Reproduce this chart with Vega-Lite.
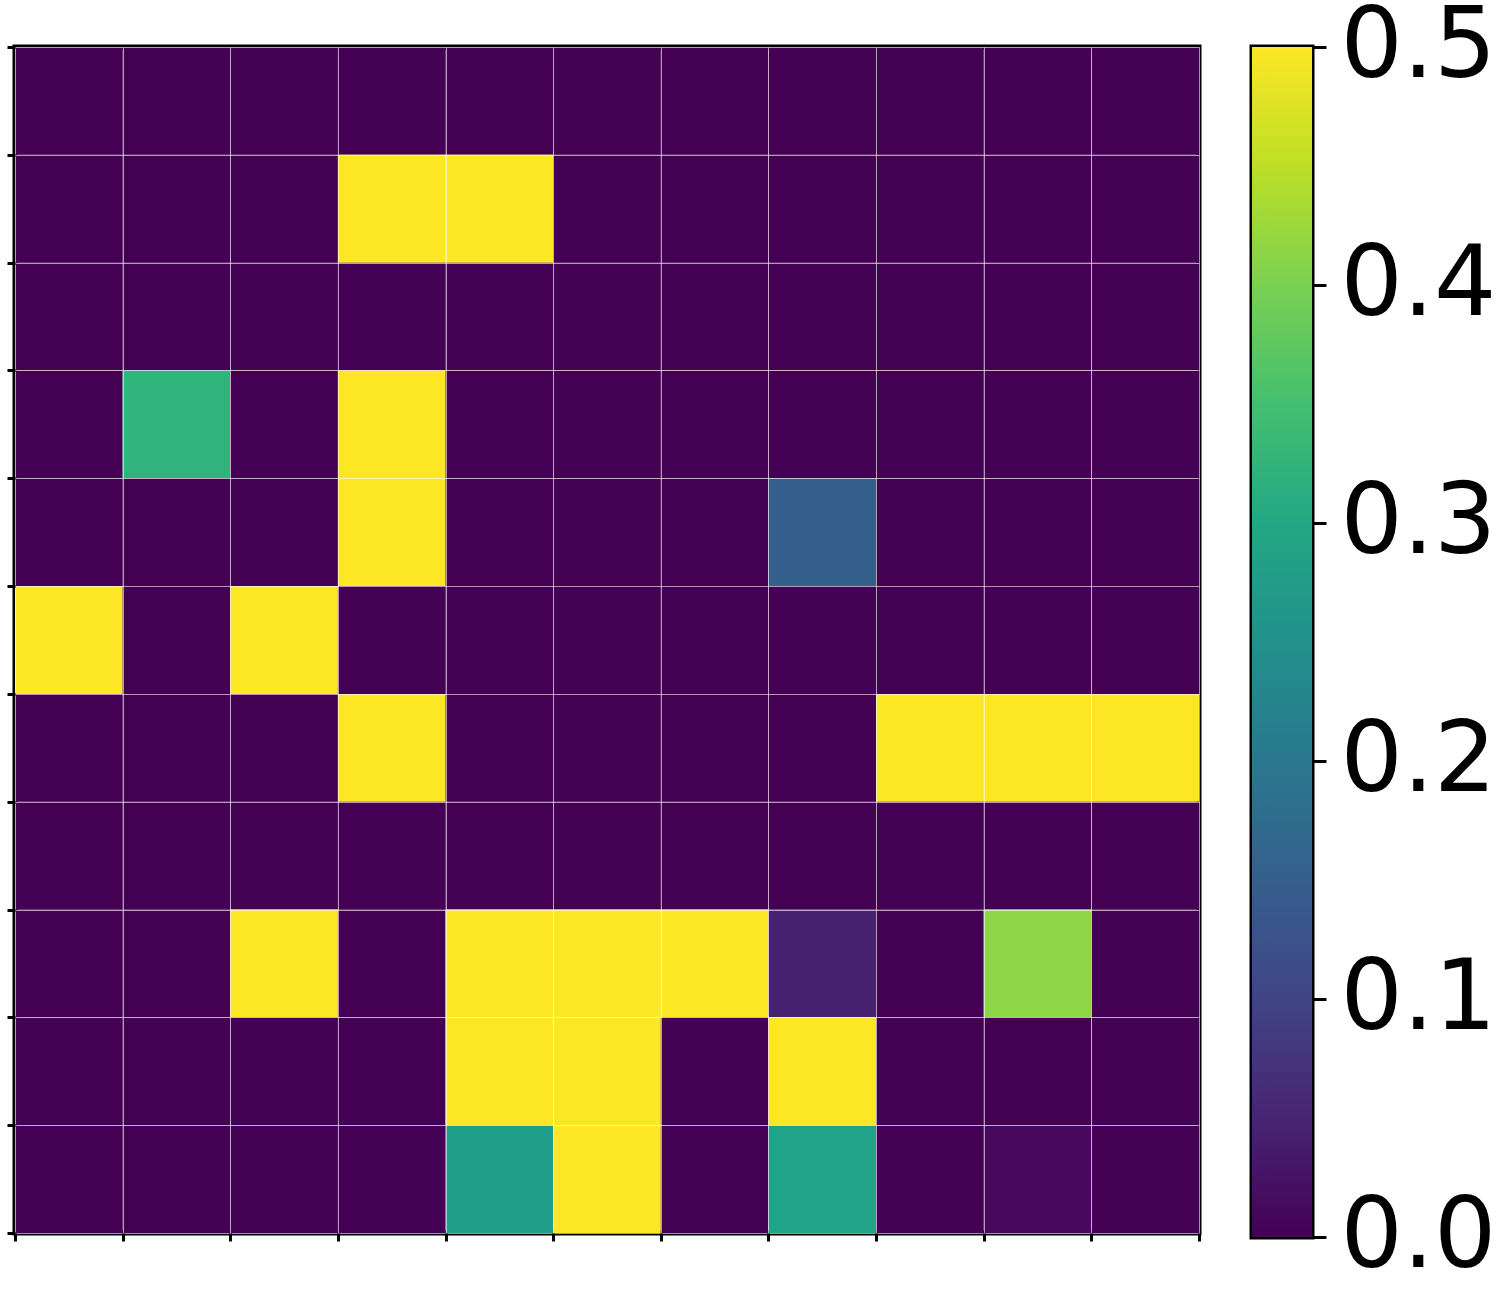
{
  "$schema": "https://vega.github.io/schema/vega-lite/v6.json",
  "background": "white",
  "padding": {"left": 3, "top": -5, "right": 0, "bottom": 0},
  "bounds": "flush",
  "spacing": 53,
  "config": {"view": {"stroke": null}, "font": "DejaVu Sans"},
  "datasets": {
    "cells": [
      {"r":0,"c":0,"v":0},{"r":0,"c":1,"v":0},{"r":0,"c":2,"v":0},{"r":0,"c":3,"v":0},{"r":0,"c":4,"v":0},{"r":0,"c":5,"v":0},{"r":0,"c":6,"v":0},{"r":0,"c":7,"v":0},{"r":0,"c":8,"v":0},{"r":0,"c":9,"v":0},{"r":0,"c":10,"v":0},
      {"r":1,"c":0,"v":0},{"r":1,"c":1,"v":0},{"r":1,"c":2,"v":0},{"r":1,"c":3,"v":0.5},{"r":1,"c":4,"v":0.5},{"r":1,"c":5,"v":0},{"r":1,"c":6,"v":0},{"r":1,"c":7,"v":0},{"r":1,"c":8,"v":0},{"r":1,"c":9,"v":0},{"r":1,"c":10,"v":0},
      {"r":2,"c":0,"v":0},{"r":2,"c":1,"v":0},{"r":2,"c":2,"v":0},{"r":2,"c":3,"v":0},{"r":2,"c":4,"v":0},{"r":2,"c":5,"v":0},{"r":2,"c":6,"v":0},{"r":2,"c":7,"v":0},{"r":2,"c":8,"v":0},{"r":2,"c":9,"v":0},{"r":2,"c":10,"v":0},
      {"r":3,"c":0,"v":0},{"r":3,"c":1,"v":0.325},{"r":3,"c":2,"v":0},{"r":3,"c":3,"v":0.5},{"r":3,"c":4,"v":0},{"r":3,"c":5,"v":0},{"r":3,"c":6,"v":0},{"r":3,"c":7,"v":0},{"r":3,"c":8,"v":0},{"r":3,"c":9,"v":0},{"r":3,"c":10,"v":0},
      {"r":4,"c":0,"v":0},{"r":4,"c":1,"v":0},{"r":4,"c":2,"v":0},{"r":4,"c":3,"v":0.5},{"r":4,"c":4,"v":0},{"r":4,"c":5,"v":0},{"r":4,"c":6,"v":0},{"r":4,"c":7,"v":0.15},{"r":4,"c":8,"v":0},{"r":4,"c":9,"v":0},{"r":4,"c":10,"v":0},
      {"r":5,"c":0,"v":0.5},{"r":5,"c":1,"v":0},{"r":5,"c":2,"v":0.5},{"r":5,"c":3,"v":0},{"r":5,"c":4,"v":0},{"r":5,"c":5,"v":0},{"r":5,"c":6,"v":0},{"r":5,"c":7,"v":0},{"r":5,"c":8,"v":0},{"r":5,"c":9,"v":0},{"r":5,"c":10,"v":0},
      {"r":6,"c":0,"v":0},{"r":6,"c":1,"v":0},{"r":6,"c":2,"v":0},{"r":6,"c":3,"v":0.5},{"r":6,"c":4,"v":0},{"r":6,"c":5,"v":0},{"r":6,"c":6,"v":0},{"r":6,"c":7,"v":0},{"r":6,"c":8,"v":0.5},{"r":6,"c":9,"v":0.5},{"r":6,"c":10,"v":0.5},
      {"r":7,"c":0,"v":0},{"r":7,"c":1,"v":0},{"r":7,"c":2,"v":0},{"r":7,"c":3,"v":0},{"r":7,"c":4,"v":0},{"r":7,"c":5,"v":0},{"r":7,"c":6,"v":0},{"r":7,"c":7,"v":0},{"r":7,"c":8,"v":0},{"r":7,"c":9,"v":0},{"r":7,"c":10,"v":0},
      {"r":8,"c":0,"v":0},{"r":8,"c":1,"v":0},{"r":8,"c":2,"v":0.5},{"r":8,"c":3,"v":0},{"r":8,"c":4,"v":0.5},{"r":8,"c":5,"v":0.5},{"r":8,"c":6,"v":0.5},{"r":8,"c":7,"v":0.045},{"r":8,"c":8,"v":0},{"r":8,"c":9,"v":0.415},{"r":8,"c":10,"v":0},
      {"r":9,"c":0,"v":0},{"r":9,"c":1,"v":0},{"r":9,"c":2,"v":0},{"r":9,"c":3,"v":0},{"r":9,"c":4,"v":0.5},{"r":9,"c":5,"v":0.5},{"r":9,"c":6,"v":0},{"r":9,"c":7,"v":0.5},{"r":9,"c":8,"v":0},{"r":9,"c":9,"v":0},{"r":9,"c":10,"v":0},
      {"r":10,"c":0,"v":0},{"r":10,"c":1,"v":0},{"r":10,"c":2,"v":0},{"r":10,"c":3,"v":0},{"r":10,"c":4,"v":0.28},{"r":10,"c":5,"v":0.5},{"r":10,"c":6,"v":0},{"r":10,"c":7,"v":0.29},{"r":10,"c":8,"v":0},{"r":10,"c":9,"v":0.01},{"r":10,"c":10,"v":0}
    ],
    "bar": [{"lo": 0, "hi": 0.5}]
  },
  "hconcat": [
    {
      "width": 1184,
      "height": 1186,
      "data": {"name": "cells"},
      "view": {"stroke": "black", "strokeWidth": 5},
      "layer": [
        {
          "mark": {"type": "rect"},
          "encoding": {
            "x": {"field": "c", "type": "ordinal", "scale": {"paddingInner": 0, "paddingOuter": 0}, "axis": null},
            "y": {"field": "r", "type": "ordinal", "scale": {"paddingInner": 0, "paddingOuter": 0}, "axis": null},
            "color": {"field": "v", "type": "quantitative", "scale": {"scheme": "viridis", "domain": [0, 0.5], "clamp": true}, "legend": null}
          }
        },
        {
          "mark": {"type": "point", "opacity": 0},
          "encoding": {
            "x": {"field": "c", "type": "quantitative", "scale": {"domain": [0, 11], "nice": false, "zero": false},
              "axis": {"orient": "bottom", "values": [0,1,2,3,4,5,6,7,8,9,10,11], "labels": false, "domain": false, "ticks": true, "tickSize": 8, "tickWidth": 3, "tickColor": "black", "grid": true, "gridColor": "white", "gridOpacity": 0.6, "gridWidth": 1, "zindex": 1, "title": null}},
            "y": {"field": "r", "type": "quantitative", "scale": {"domain": [0, 11], "nice": false, "zero": false},
              "axis": {"orient": "left", "values": [0,1,2,3,4,5,6,7,8,9,10,11], "labels": false, "domain": false, "ticks": true, "tickSize": 8, "tickWidth": 3, "tickColor": "black", "grid": true, "gridColor": "white", "gridOpacity": 0.6, "gridWidth": 1, "zindex": 1, "title": null}}
          }
        }
      ],
      "resolve": {"scale": {"x": "independent", "y": "independent"}}
    },
    {
      "width": 60,
      "height": 1190,
      "data": {"name": "bar"},
      "view": {"stroke": "black", "strokeWidth": 5},
      "mark": {
        "type": "rect",
        "fill": {
          "gradient": "linear", "x1": 0, "y1": 1, "x2": 0, "y2": 0,
          "stops": [
            {"offset": 0.0, "color": "#440154"},
            {"offset": 0.1, "color": "#482475"},
            {"offset": 0.2, "color": "#414487"},
            {"offset": 0.3, "color": "#355f8d"},
            {"offset": 0.4, "color": "#2a788e"},
            {"offset": 0.5, "color": "#21918c"},
            {"offset": 0.6, "color": "#22a884"},
            {"offset": 0.7, "color": "#44bf70"},
            {"offset": 0.8, "color": "#7ad151"},
            {"offset": 0.9, "color": "#bddf26"},
            {"offset": 1.0, "color": "#fde725"}
          ]
        }
      },
      "encoding": {
        "x": {"value": 0},
        "x2": {"value": "width"},
        "y": {"field": "lo", "type": "quantitative", "scale": {"domain": [0, 0.5], "nice": false, "zero": false},
          "axis": {"orient": "right", "values": [0, 0.1, 0.2, 0.3, 0.4, 0.5], "format": ".1f", "labelFontSize": 98, "labelFont": "DejaVu Sans", "labelColor": "black", "labelPadding": 14, "labelFlush": false, "labelOverlap": false, "tickSize": 14, "tickWidth": 3, "tickColor": "black", "domain": false, "grid": false, "title": null}},
        "y2": {"field": "hi"}
      }
    }
  ]
}
